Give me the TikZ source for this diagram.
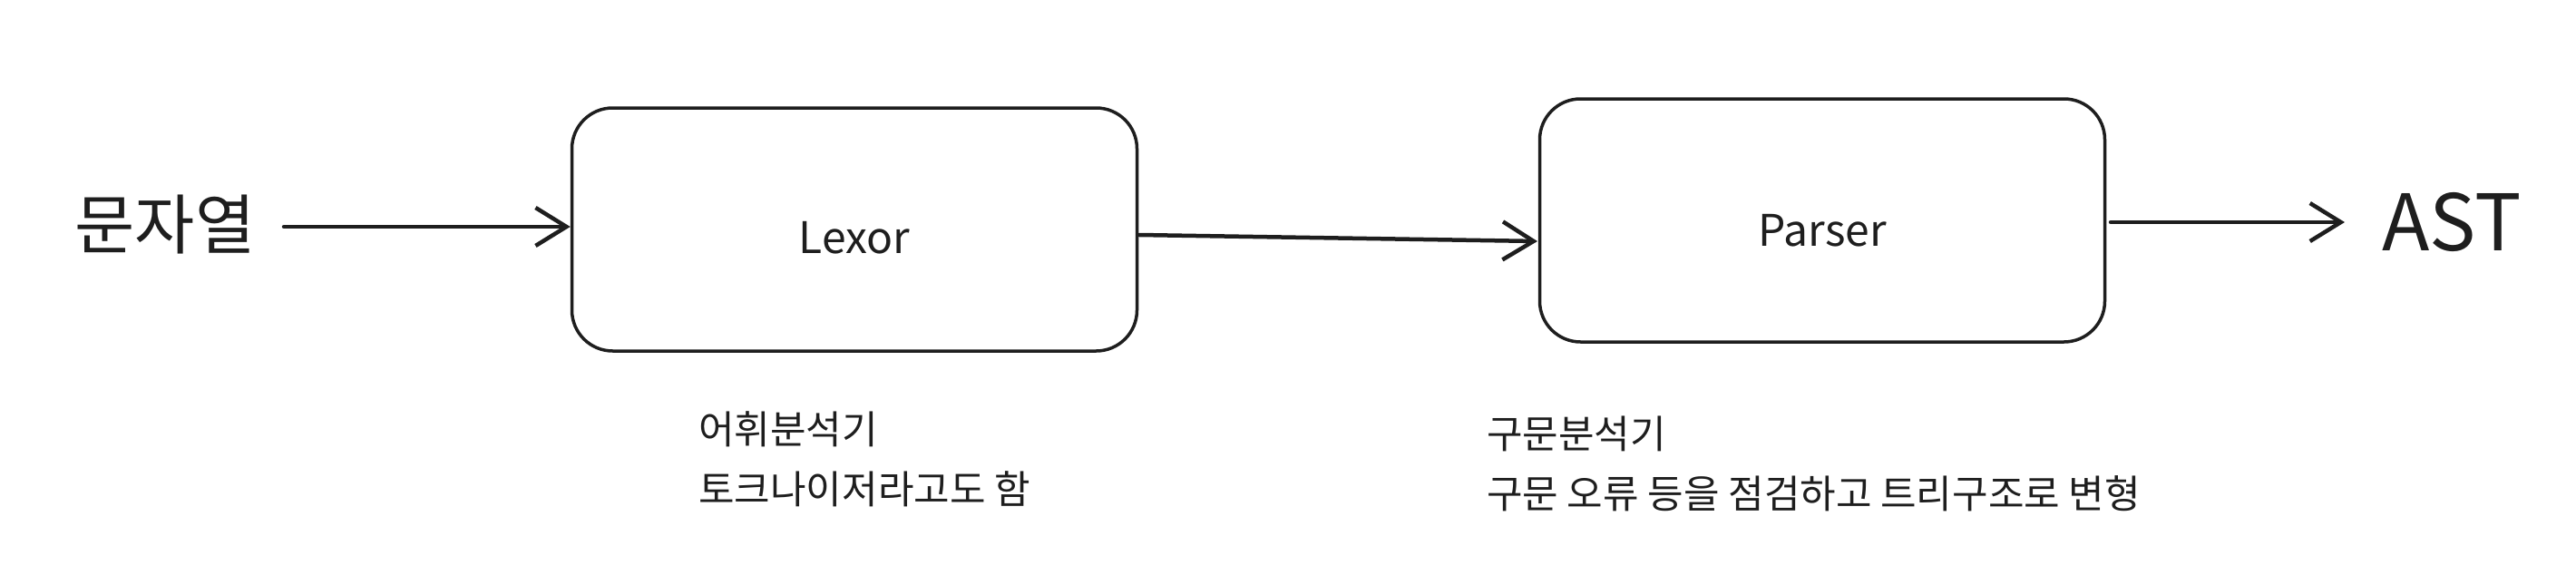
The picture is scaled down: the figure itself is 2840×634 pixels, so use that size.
\documentclass[tikz,border=0pt]{standalone}
\usepackage{fontspec}
\setmainfont{Noto Sans CJK KR}
\usetikzlibrary{arrows.meta}
\definecolor{ink}{HTML}{1E1E1E}
\tikzset{
  procbox/.style={draw=ink, line width=3.5pt, rounded corners=45pt, minimum width=623pt, minimum height=268pt, inner sep=0pt},
  flow/.style={draw=ink, line width=4.5pt, line cap=round, -{Straight Barb[length=34pt,width=42pt,line width=4.5pt]}},
  note/.style={text=ink, anchor=west, inner sep=0pt, font=\fontsize{43pt}{50pt}\selectfont},
  big/.style={text=ink, inner sep=0pt}
}
\begin{document}
\begin{tikzpicture}[x=1pt,y=-1pt]
\useasboundingbox (0,0) rectangle (2840,634);
\fill[white] (0,0) rectangle (2840,634);
\node[procbox] (lexor) at (942,253) {};
\node[big, font=\fontsize{48pt}{56pt}\selectfont] (lext) at (942,262) {Lexor};
\node[procbox] (parser) at (2009,243) {};
\node[big, font=\fontsize{48pt}{56pt}\selectfont] (part) at (2009,254) {Parser};
\node[big, font=\fontsize{72pt}{80pt}\selectfont] (src) at (182,248) {문자열};
\node[big, font=\fontsize{86pt}{94pt}\selectfont] (ast) at (2703,245) {AST};
\coordinate (s1) at (313,250);
\draw[flow] (s1) -- (lexor.west |- s1);
\coordinate (s2) at (1256,259);
\coordinate (e2) at (1695,266);
\draw[flow] (s2) -- (e2);
\coordinate (s3) at (2327,245);
\coordinate (e3) at (2585,245);
\draw[flow] (s3) -- (e3);
\node[note] (l1) at (770,473) {어휘분석기};
\node[note] (l2) at (770,539) {토크나이저라고도 함};
\node[note] (p1) at (1639,478) {구문분석기};
\node[note] (p2) at (1639,544) {구문 오류 등을 점검하고 트리구조로 변형};
\end{tikzpicture}
\end{document}
